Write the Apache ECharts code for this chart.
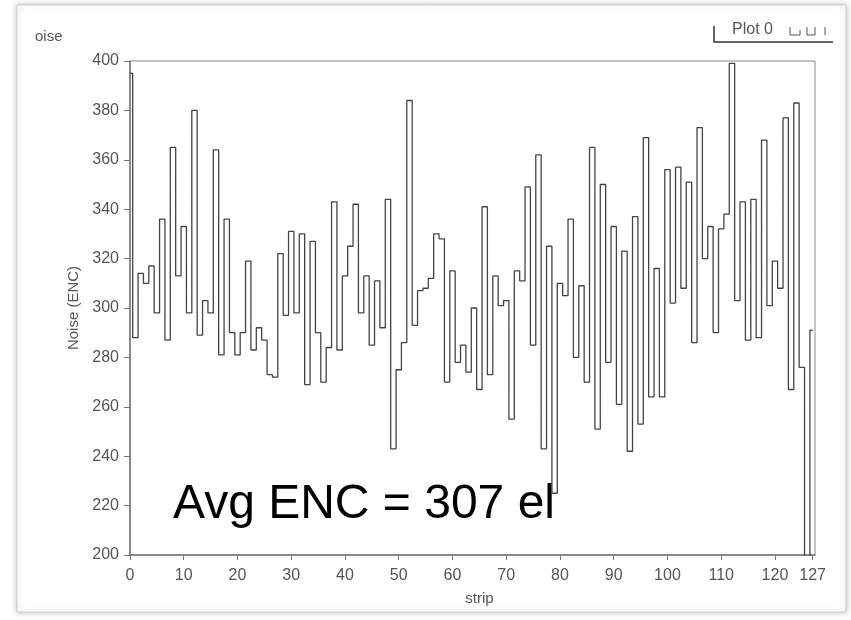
<!DOCTYPE html>
<html>
<head>
<meta charset="utf-8">
<script src="https://cdn.jsdelivr.net/npm/echarts@6/dist/echarts.min.js"></script>
<style>
html,body{margin:0;padding:0;background:#fff;}
#chart{width:851px;height:620px;}
</style>
</head>
<body>
<div id="chart"></div>
<script>
// strip indices 0..127
const strips = Array.from({length: 128}, (_, i) => i);
// Noise (ENC) per strip
const noise = [
  395, 288, 314, 310, 317, 298, 336, 287, 365, 313,
  333, 298, 380, 289, 303, 298, 364, 281, 336, 290,
  281, 290, 319, 283, 292, 287, 273, 272, 322, 297,
  331, 298, 330, 269, 327, 290, 270, 284, 343, 283,
  313, 325, 342, 298, 313, 285, 311, 292, 344, 243,
  275, 286, 384, 293, 307, 308, 312, 330, 328, 270,
  315, 278, 285, 274, 300, 267, 341, 273, 313, 301,
  303, 255, 315, 311, 349, 285, 362, 243, 325, 225,
  310, 305, 336, 280, 309, 270, 365, 251, 350, 278,
  333, 261, 323, 242, 337, 253, 369, 264, 316, 264,
  356, 302, 357, 308, 351, 286, 373, 320, 333, 290,
  332, 338, 399, 303, 343, 287, 344, 288, 368, 301,
  319, 308, 377, 267, 383, 276, 180, 291
];
const xTickValues = [0, 10, 20, 30, 40, 50, 60, 70, 80, 90, 100, 110, 120, 127];
const yMin = 200, yMax = 400, yStep = 20;
const avgText = 'Avg ENC = 307 el';
const legendText = 'Plot 0';
const yName = 'Noise (ENC)';
const xName = 'strip';
const cornerLabel = 'oise';

const chart = echarts.init(document.getElementById('chart'), null, {renderer: 'canvas'});
const font = 'Liberation Sans';
const labelColor = '#555';

chart.setOption({
  backgroundColor: '#fff',
  animation: false,
  grid: {
    left: 130, right: 36, top: 61, bottom: 65,
    show: true, borderColor: '#8a8a8a', borderWidth: 1
  },
  xAxis: {
    type: 'value',
    min: 0, max: 127.45,
    name: xName, nameLocation: 'middle', nameGap: 36,
    nameTextStyle: {fontFamily: font, fontSize: 15, color: labelColor, padding: [0, 0, 0, 14]},
    axisLine: {show: true, lineStyle: {color: '#777', width: 1.5}},
    axisTick: {show: true, customValues: xTickValues, length: 5, lineStyle: {color: '#777'}},
    axisLabel: {customValues: xTickValues, fontFamily: font, fontSize: 16, color: labelColor, margin: 13},
    splitLine: {show: false}
  },
  yAxis: {
    type: 'value',
    min: yMin, max: yMax, interval: yStep,
    name: yName, nameLocation: 'middle', nameGap: 48,
    nameTextStyle: {fontFamily: font, fontSize: 15, color: labelColor},
    axisLine: {show: true, lineStyle: {color: '#777', width: 1.5}},
    axisTick: {show: true, length: 6, lineStyle: {color: '#777'}},
    axisLabel: {fontFamily: font, fontSize: 16, color: labelColor, margin: 11},
    splitLine: {show: false}
  },
  series: [{
    type: 'line',
    step: 'middle',
    data: strips.map((s, i) => [s, noise[i]]),
    showSymbol: false,
    clip: true,
    lineStyle: {color: '#444', width: 1.3}
  }],
  graphic: [
    {
      type: 'rect', z: -10,
      shape: {x: 17, y: 5, width: 829, height: 607},
      style: {fill: '#fff', stroke: '#cfcfcf', lineWidth: 1, shadowBlur: 6, shadowColor: 'rgba(0,0,0,0.25)'}
    },
    {
      type: 'text', left: 35, top: 29,
      style: {text: cornerLabel, font: '15px "Liberation Sans"', fill: labelColor}
    },
    {
      type: 'text', left: 173, top: 481,
      style: {text: avgText, font: '48px "Liberation Sans"', fill: '#000'}
    },
    {
      type: 'text', left: 732, top: 22,
      style: {text: legendText, font: '16px "Liberation Sans"', fill: labelColor}
    },
    {
      type: 'polyline',
      shape: {points: [[714, 26], [714, 42], [833, 42]]},
      style: {stroke: '#333', lineWidth: 1.5, fill: null}
    },
    {
      type: 'polyline',
      shape: {points: [[790, 27], [790, 35], [800, 35], [800, 30]]},
      style: {stroke: '#555', lineWidth: 1, fill: null}
    },
    {
      type: 'polyline',
      shape: {points: [[807, 27], [807, 35], [815, 35], [815, 27]]},
      style: {stroke: '#555', lineWidth: 1, fill: null}
    },
    {
      type: 'polyline',
      shape: {points: [[825, 27], [825, 35]]},
      style: {stroke: '#555', lineWidth: 1, fill: null}
    }
  ]
});
</script>
</body>
</html>
